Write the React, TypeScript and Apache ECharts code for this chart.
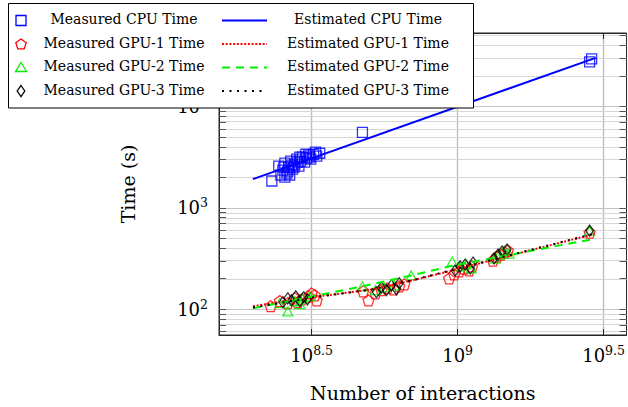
import React, { useEffect, useRef } from "react";
import * as echarts from "echarts";

// ---------- data (interactions in millions, time in seconds) ----------
const cpuInteractionsM = [231, 244, 248, 252, 256, 260, 264, 268, 272, 277, 281, 286, 290, 294, 299, 304, 309, 314, 321, 329, 256, 266, 254, 270, 288, 302, 311, 326, 337, 262, 275, 283, 472, 2832, 2877];
const cpuTimeS = [1841, 2582, 2109, 2361, 2761, 2203, 2523, 2893, 2412, 2698, 3020, 2582, 2893, 3162, 2825, 3090, 3311, 3020, 3381, 3236, 2014, 2109, 2523, 2642, 3162, 3381, 3162, 3540, 3459, 2307, 2523, 2825, 5560, 27600, 29580];

const gpu1InteractionsM = [229, 246, 262, 277, 292, 309, 324, 329, 316, 283, 475, 495, 523, 548, 574, 603, 631, 657, 935, 973, 1012, 1052, 1094, 1121, 1321, 1364, 1406, 1452, 1486, 2832];
const gpu1TimeS = [107, 120, 115, 128, 125, 134, 137, 122, 143, 117, 150, 122, 143, 154, 161, 157, 168, 176, 201, 220, 236, 252, 241, 264, 302, 331, 346, 362, 379, 569];

const gpu2InteractionsM = [262, 246, 277, 294, 311, 288, 472, 523, 561, 607, 693, 958, 1012, 1069, 1112, 1386, 1442, 1500, 1343, 2832];
const gpu2TimeS = [95, 115, 120, 128, 134, 112, 168, 154, 164, 172, 215, 295, 264, 276, 252, 346, 379, 354, 316, 596];

const gpu3InteractionsM = [252, 262, 270, 279, 288, 297, 306, 527, 548, 570, 593, 617, 631, 980, 1020, 1061, 1104, 1130, 1333, 1375, 1419, 1476, 2832];
const gpu3TimeS = [117, 128, 122, 134, 120, 131, 125, 147, 164, 154, 172, 157, 180, 241, 264, 276, 252, 289, 316, 346, 371, 388, 596];

const cpuFitInteractionsM = [199, 2970];
const cpuFitTimeS = [1923, 30200];
const gpu1FitInteractionsM = [199, 316, 511, 699, 958, 1464, 2970];
const gpu1FitTimeS = [107, 131, 157, 192, 241, 331, 556];
const gpu2FitInteractionsM = [199, 472, 693, 958, 2970];
const gpu2FitTimeS = [102, 168, 215, 268, 497];
const gpu3FitInteractionsM = [199, 316, 511, 699, 958, 1464, 2970];
const gpu3FitTimeS = [104, 130, 157, 193, 243, 333, 560];

const xTickExponents = [8.5, 9, 9.5];
const yTickExponents = [2, 3, 4];

const seriesNames = [
  "Measured CPU Time",
  "Estimated CPU Time",
  "Measured GPU-1 Time",
  "Estimated GPU-1 Time",
  "Measured GPU-2 Time",
  "Estimated GPU-2 Time",
  "Measured GPU-3 Time",
  "Estimated GPU-3 Time",
];

// ---------- styling ----------
const FONT = '"DejaVu Serif", serif';
const AX = "#262626";
const X_MIN = 8.1826;
const X_MAX = 9.5785;
const Y_MIN = 1.745;
const Y_MAX = 4.7255;
const BLUE = "#0000ff";
const RED = "#ff0000";
const GREEN = "#00f000";
const BLACK = "#000000";
const RED_DASH = [2, 1.7];
const GREEN_DASH = [8, 6];
const BLACK_DASH = [2, 5.5];
const PENTAGON = "path://M0,-1 L0.951,-0.309 L0.588,0.809 L-0.588,0.809 L-0.951,-0.309 Z";

const toPts = (n: number[], t: number[]) => n.map((v, i) => [Math.log10(v * 1e6), Math.log10(t[i])]);

const fmtPow = (v: number) => `{b|10}{s|${String(Math.round(v * 10) / 10)}}`;

const richPow = {
  b: { fontFamily: FONT, fontSize: 18, color: "#000" },
  s: { fontFamily: FONT, fontSize: 12.5, color: "#000", padding: [0, 0, 10, 0] },
};

// gridline positions (log10 values)
const yGridValues: { v: number; major: boolean }[] = [];
for (let e = 1; e <= 4; e++) {
  for (let k = 1; k <= 9; k++) {
    const v = Math.log10(k) + e;
    if (v > Y_MIN && v < Y_MAX) yGridValues.push({ v, major: k === 1 });
  }
}

function buildLegend() {
  const els: any[] = [];
  const Z = 100;
  els.push({
    type: "rect",
    z: Z,
    shape: { x: 8.5, y: 3.5, width: 465, height: 104.5 },
    style: { fill: "#fff", stroke: "#000", lineWidth: 1 },
  });
  const rowY = [20.5, 44, 67.5, 91];
  const textDy = -1.5;
  const mx = 21;
  els.push({ type: "rect", z: Z + 1, shape: { x: mx - 5, y: rowY[0] - 5, width: 10, height: 10 }, style: { fill: "none", stroke: BLUE, lineWidth: 1.3 } });
  const pent: number[][] = [];
  for (let i = 0; i < 5; i++) {
    const a = (-90 + 72 * i) * (Math.PI / 180);
    pent.push([mx + 5.5 * Math.cos(a), rowY[1] + 5.5 * Math.sin(a) + 0.5]);
  }
  els.push({ type: "polygon", z: Z + 1, shape: { points: pent }, style: { fill: "none", stroke: RED, lineWidth: 1.3 } });
  els.push({ type: "polygon", z: Z + 1, shape: { points: [[mx, rowY[2] - 5], [mx + 5.5, rowY[2] + 4], [mx - 5.5, rowY[2] + 4]] }, style: { fill: "none", stroke: GREEN, lineWidth: 1.3 } });
  els.push({ type: "polygon", z: Z + 1, shape: { points: [[mx, rowY[3] - 5.5], [mx + 3.8, rowY[3]], [mx, rowY[3] + 5.5], [mx - 3.8, rowY[3]]] }, style: { fill: "none", stroke: BLACK, lineWidth: 1.3 } });
  const lineStyles = [
    { stroke: BLUE, lineDash: null },
    { stroke: RED, lineDash: RED_DASH },
    { stroke: GREEN, lineDash: GREEN_DASH },
    { stroke: BLACK, lineDash: BLACK_DASH },
  ];
  lineStyles.forEach((s, i) => {
    els.push({
      type: "line",
      z: Z + 1,
      shape: { x1: 222, y1: rowY[i], x2: 267, y2: rowY[i] },
      style: { stroke: s.stroke, lineWidth: 2, lineDash: s.lineDash || undefined },
    });
  });
  for (let i = 0; i < 4; i++) {
    els.push({
      type: "text",
      z: Z + 1,
      x: 124,
      y: rowY[i] + textDy,
      style: { text: seriesNames[i * 2], fill: "#000", fontFamily: FONT, fontSize: 14, align: "center", verticalAlign: "middle" },
    });
    els.push({
      type: "text",
      z: Z + 1,
      x: 368,
      y: rowY[i] + textDy,
      style: { text: seriesNames[i * 2 + 1], fill: "#000", fontFamily: FONT, fontSize: 14, align: "center", verticalAlign: "middle" },
    });
  }
  return els;
}

function buildOption(): any {
  const gridLineData: any[] = [];
  xTickExponents.forEach((v) =>
    gridLineData.push({ xAxis: v, lineStyle: { color: "#bdbdbd", width: 1.4, type: "solid" } })
  );
  yGridValues.forEach((g) =>
    gridLineData.push({ yAxis: g.v, lineStyle: { color: g.major ? "#c4c4c4" : "#d6d6d6", width: 1, type: "solid" } })
  );

  const hollow = (c: string) => ({ color: "rgba(0,0,0,0)", borderColor: c, borderWidth: 1.3 });

  return {
    animation: false,
    backgroundColor: "#fff",
    textStyle: { fontFamily: FONT },
    grid: { left: 219, top: 33, right: 0, bottom: 70, show: true, borderColor: AX, borderWidth: 1, backgroundColor: "rgba(0,0,0,0)" },
    graphic: buildLegend(),
    xAxis: [
      {
        type: "value",
        position: "bottom",
        min: X_MIN,
        max: X_MAX,
        z: 4,
        axisLine: { show: true, onZero: false, lineStyle: { color: AX, width: 1 } },
        axisTick: { show: true, inside: true, length: 6, customValues: xTickExponents, lineStyle: { color: AX } },
        axisLabel: { show: true, customValues: xTickExponents, formatter: fmtPow, margin: 9, rich: richPow },
        splitLine: { show: false },
        name: "Number of interactions",
        nameLocation: "middle",
        nameGap: 48,
        nameTextStyle: { fontFamily: FONT, fontSize: 19, color: "#000" },
      },
      {
        type: "value",
        position: "top",
        min: X_MIN,
        max: X_MAX,
        z: 4,
        axisLine: { show: true, onZero: false, lineStyle: { color: AX, width: 1 } },
        axisTick: { show: true, inside: true, length: 6, customValues: xTickExponents, lineStyle: { color: AX } },
        axisLabel: { show: false },
        splitLine: { show: false },
      },
    ],
    yAxis: [
      {
        type: "value",
        position: "left",
        min: Y_MIN,
        max: Y_MAX,
        z: 4,
        axisLine: { show: true, onZero: false, lineStyle: { color: AX, width: 1 } },
        axisTick: { show: true, inside: true, length: 7, customValues: yGridValues.map((g) => g.v), lineStyle: { color: "#555" } },
        axisLabel: { show: true, customValues: yTickExponents, formatter: fmtPow, margin: 11, rich: richPow },
        splitLine: { show: false },
        name: "Time (s)",
        nameLocation: "middle",
        nameGap: 82,
        nameTextStyle: { fontFamily: FONT, fontSize: 19, color: "#000" },
      },
      {
        type: "value",
        position: "right",
        min: Y_MIN,
        max: Y_MAX,
        z: 4,
        axisLine: { show: false },
        axisTick: { show: true, inside: true, length: 7, customValues: yGridValues.map((g) => g.v), lineStyle: { color: "#555" } },
        axisLabel: { show: false },
        splitLine: { show: false },
      },
    ],
    series: [
      {
        type: "line",
        name: "gridlines",
        data: [],
        silent: true,
        z: 1,
        markLine: {
          z: 1,
          silent: true,
          symbol: ["none", "none"],
          label: { show: false },
          emphasis: { disabled: true },
          animation: false,
          data: gridLineData,
        },
      },
      {
        type: "scatter",
        name: seriesNames[0],
        data: toPts(cpuInteractionsM, cpuTimeS),
        symbol: "rect",
        symbolSize: 10,
        itemStyle: hollow(BLUE),
        z: 2,
      },
      {
        type: "line",
        name: seriesNames[1],
        data: toPts(cpuFitInteractionsM, cpuFitTimeS),
        showSymbol: false,
        symbol: "none",
        lineStyle: { color: BLUE, width: 2 },
        z: 3,
      },
      {
        type: "scatter",
        name: seriesNames[2],
        data: toPts(gpu1InteractionsM, gpu1TimeS),
        symbol: PENTAGON,
        symbolSize: 11,
        itemStyle: hollow(RED),
        z: 2,
      },
      {
        type: "line",
        name: seriesNames[3],
        data: toPts(gpu1FitInteractionsM, gpu1FitTimeS),
        showSymbol: false,
        symbol: "none",
        lineStyle: { color: RED, width: 2, type: RED_DASH },
        z: 3,
      },
      {
        type: "scatter",
        name: seriesNames[4],
        data: toPts(gpu2InteractionsM, gpu2TimeS),
        symbol: "triangle",
        symbolSize: [10, 9],
        itemStyle: hollow(GREEN),
        z: 2,
      },
      {
        type: "line",
        name: seriesNames[5],
        data: toPts(gpu2FitInteractionsM, gpu2FitTimeS),
        showSymbol: false,
        symbol: "none",
        lineStyle: { color: GREEN, width: 2, type: GREEN_DASH },
        z: 3,
      },
      {
        type: "scatter",
        name: seriesNames[6],
        data: toPts(gpu3InteractionsM, gpu3TimeS),
        symbol: "diamond",
        symbolSize: [8, 11],
        itemStyle: hollow(BLACK),
        z: 2,
      },
      {
        type: "line",
        name: seriesNames[7],
        data: toPts(gpu3FitInteractionsM, gpu3FitTimeS),
        showSymbol: false,
        symbol: "none",
        lineStyle: { color: BLACK, width: 2, type: BLACK_DASH },
        z: 3,
      },
    ],
  };
}

export default function App() {
  const ref = useRef<HTMLDivElement>(null);
  useEffect(() => {
    if (!ref.current) return;
    const chart = echarts.init(ref.current, null, { renderer: "svg" });
    chart.setOption(buildOption());
    return () => chart.dispose();
  }, []);
  return (
    <div
      ref={ref}
      style={{ position: "fixed", left: 0, top: 0, width: 628, height: 407, background: "#fff" }}
    />
  );
}
